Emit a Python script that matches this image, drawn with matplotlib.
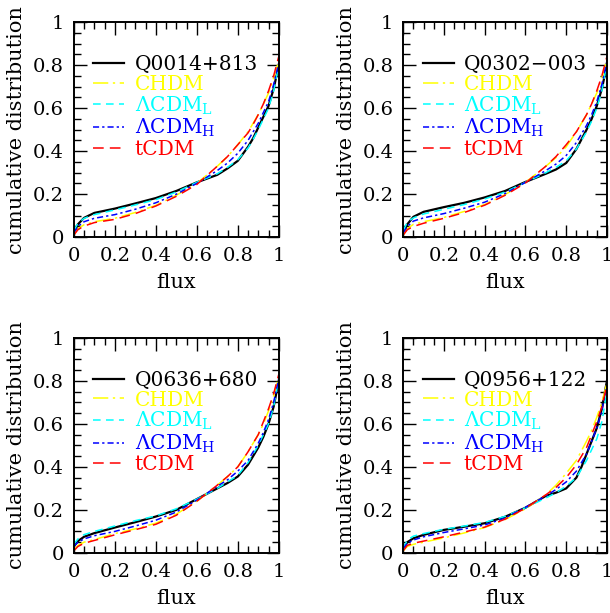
import numpy as np
import matplotlib
matplotlib.use("Agg")
import matplotlib.pyplot as plt
from matplotlib.ticker import MultipleLocator, FormatStrFormatter

plt.rcParams['font.family'] = ['DejaVu Serif']
plt.rcParams['mathtext.fontset'] = 'dejavuserif'

flux = [0, 0.02, 0.05, 0.1, 0.2, 0.3, 0.4, 0.5, 0.6, 0.7, 0.75, 0.8, 0.85, 0.875, 0.9, 0.925, 0.95, 0.975, 1.0]

quasars = ["Q0014+813", "Q0302\u2212003", "Q0636+680", "Q0956+122"]
models = ["CHDM", r"$\Lambda$CDM$_{\rm L}$", r"$\Lambda$CDM$_{\rm H}$", "tCDM"]

# Q0014+813
obs_1 = [0.02, 0.06, 0.09, 0.113, 0.133, 0.157, 0.182, 0.215, 0.255, 0.29, 0.32, 0.355, 0.42, 0.46, 0.51, 0.56, 0.61, 0.69, 0.80]
chdm_1 = [0.01, 0.04, 0.058, 0.072, 0.088, 0.115, 0.148, 0.195, 0.25, 0.33, 0.375, 0.43, 0.49, 0.53, 0.57, 0.62, 0.67, 0.74, 0.82]
lcdml_1 = [0.03, 0.065, 0.088, 0.105, 0.127, 0.15, 0.175, 0.21, 0.255, 0.295, 0.325, 0.36, 0.415, 0.455, 0.50, 0.55, 0.60, 0.68, 0.80]
lcdmh_1 = [0.02, 0.05, 0.072, 0.088, 0.105, 0.13, 0.16, 0.20, 0.25, 0.31, 0.345, 0.39, 0.45, 0.49, 0.53, 0.58, 0.63, 0.71, 0.81]
tcdm_1 = [0.01, 0.035, 0.052, 0.068, 0.083, 0.11, 0.145, 0.19, 0.245, 0.33, 0.375, 0.43, 0.485, 0.525, 0.57, 0.62, 0.68, 0.75, 0.84]

# Q0302-003
obs_2 = [0.02, 0.06, 0.095, 0.118, 0.14, 0.16, 0.185, 0.215, 0.257, 0.295, 0.315, 0.345, 0.41, 0.455, 0.50, 0.55, 0.61, 0.69, 0.80]
chdm_2 = [0.01, 0.04, 0.06, 0.072, 0.092, 0.12, 0.152, 0.198, 0.255, 0.33, 0.37, 0.42, 0.49, 0.53, 0.57, 0.62, 0.67, 0.74, 0.83]
lcdml_2 = [0.03, 0.07, 0.09, 0.108, 0.13, 0.152, 0.178, 0.21, 0.255, 0.30, 0.325, 0.355, 0.41, 0.45, 0.49, 0.54, 0.60, 0.68, 0.81]
lcdmh_2 = [0.02, 0.05, 0.075, 0.09, 0.11, 0.135, 0.163, 0.203, 0.255, 0.31, 0.34, 0.38, 0.44, 0.48, 0.52, 0.57, 0.63, 0.71, 0.82]
tcdm_2 = [0.01, 0.035, 0.05, 0.065, 0.088, 0.115, 0.149, 0.195, 0.252, 0.33, 0.375, 0.43, 0.49, 0.53, 0.57, 0.62, 0.68, 0.75, 0.84]

# Q0636+680
obs_3 = [0.03, 0.055, 0.075, 0.092, 0.118, 0.143, 0.169, 0.20, 0.25, 0.30, 0.325, 0.355, 0.41, 0.45, 0.49, 0.54, 0.60, 0.68, 0.80]
chdm_3 = [0.01, 0.035, 0.05, 0.062, 0.09, 0.112, 0.138, 0.18, 0.24, 0.315, 0.355, 0.40, 0.47, 0.51, 0.55, 0.60, 0.66, 0.73, 0.82]
lcdml_3 = [0.04, 0.065, 0.085, 0.10, 0.125, 0.15, 0.172, 0.205, 0.25, 0.30, 0.33, 0.36, 0.42, 0.46, 0.50, 0.55, 0.60, 0.68, 0.81]
lcdmh_3 = [0.03, 0.05, 0.065, 0.08, 0.10, 0.125, 0.152, 0.19, 0.245, 0.31, 0.34, 0.38, 0.43, 0.47, 0.51, 0.56, 0.62, 0.70, 0.81]
tcdm_3 = [0.01, 0.03, 0.045, 0.058, 0.084, 0.108, 0.133, 0.175, 0.24, 0.315, 0.355, 0.40, 0.47, 0.51, 0.55, 0.61, 0.67, 0.74, 0.83]

# Q0956+122
obs_4 = [0.02, 0.05, 0.068, 0.084, 0.107, 0.122, 0.138, 0.168, 0.21, 0.265, 0.28, 0.30, 0.35, 0.40, 0.46, 0.52, 0.58, 0.67, 0.80]
chdm_4 = [0.01, 0.03, 0.04, 0.05, 0.07, 0.093, 0.118, 0.155, 0.205, 0.27, 0.315, 0.37, 0.43, 0.475, 0.52, 0.57, 0.63, 0.70, 0.79]
lcdml_4 = [0.02, 0.06, 0.078, 0.09, 0.11, 0.125, 0.142, 0.17, 0.21, 0.255, 0.28, 0.31, 0.35, 0.39, 0.43, 0.48, 0.53, 0.61, 0.75]
lcdmh_4 = [0.02, 0.045, 0.06, 0.075, 0.095, 0.112, 0.13, 0.162, 0.212, 0.265, 0.295, 0.33, 0.38, 0.42, 0.46, 0.52, 0.58, 0.66, 0.78]
tcdm_4 = [0.01, 0.035, 0.045, 0.055, 0.075, 0.097, 0.12, 0.157, 0.208, 0.27, 0.305, 0.35, 0.41, 0.45, 0.49, 0.55, 0.61, 0.68, 0.78]

panels = [
    (obs_1, chdm_1, lcdml_1, lcdmh_1, tcdm_1),
    (obs_2, chdm_2, lcdml_2, lcdmh_2, tcdm_2),
    (obs_3, chdm_3, lcdml_3, lcdmh_3, tcdm_3),
    (obs_4, chdm_4, lcdml_4, lcdmh_4, tcdm_4),
]

colors = ["black", "#ffff00", "#00ffff", "#0000ff", "#ff0000"]
styles = ["-", (0, (10, 3, 1.5, 3)), (0, (5, 3.5)), (0, (4, 2, 1.5, 2)), (0, (7, 4))]
widths = [1.6, 1.1, 1.1, 1.1, 1.1]

fig = plt.figure(figsize=(6.1, 6.13), dpi=100)
boxes = [
    [0.121, 0.613, 0.336, 0.351],
    [0.661, 0.613, 0.334, 0.351],
    [0.121, 0.098, 0.336, 0.351],
    [0.661, 0.098, 0.334, 0.351],
]

for k in range(4):
    ax = fig.add_axes(boxes[k])
    labels = [quasars[k]] + models
    for j in range(5):
        ax.plot(flux, panels[k][j], color=colors[j], linestyle=styles[j],
                linewidth=widths[j], label=labels[j])
    ax.set_xlim(0, 1)
    ax.set_ylim(0, 1)
    ax.xaxis.set_major_locator(MultipleLocator(0.2))
    ax.xaxis.set_minor_locator(MultipleLocator(0.05))
    ax.yaxis.set_major_locator(MultipleLocator(0.2))
    ax.yaxis.set_minor_locator(MultipleLocator(0.05))
    ax.xaxis.set_major_formatter(FormatStrFormatter('%g'))
    ax.yaxis.set_major_formatter(FormatStrFormatter('%g'))
    ax.tick_params(which='both', direction='in', top=True, right=True, labelsize=14)
    ax.tick_params(which='major', length=9, width=1.0, pad=7)
    ax.tick_params(which='minor', length=5, width=1.0)
    for s in ax.spines.values():
        s.set_linewidth(1.4)
    ax.set_xlabel("flux", fontsize=15, labelpad=6)
    ax.set_ylabel("cumulative distribution", fontsize=15, labelpad=5)

    leg = ax.legend(loc='upper left', bbox_to_anchor=(0.095, 0.845), frameon=False,
                    fontsize=14.5, handlelength=1.55, handletextpad=0.5,
                    labelspacing=0.02, borderpad=0, borderaxespad=0)
    for t, c in zip(leg.get_texts(), colors):
        t.set_color(c)

plt.savefig("out.png", dpi=100)
